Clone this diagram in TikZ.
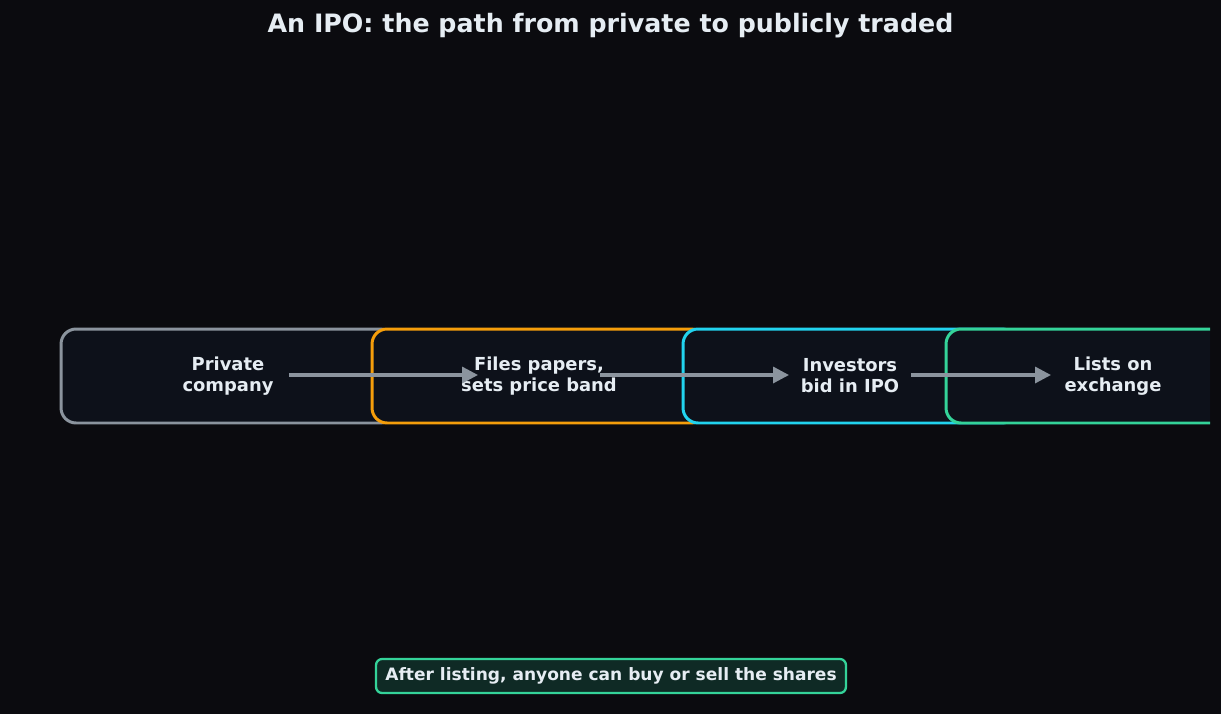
\documentclass[tikz,border=0pt]{standalone}
\usepackage{fontspec}
\setmainfont{DejaVu Sans}
\usetikzlibrary{arrows.meta,positioning}
\definecolor{bgdark}{HTML}{0B0B0F}
\definecolor{boxfill}{HTML}{0D111A}
\definecolor{txtlight}{HTML}{E6EDF3}
\definecolor{edgegray}{HTML}{8B949E}
\definecolor{edgeorange}{HTML}{F59E0B}
\definecolor{edgecyan}{HTML}{22D3EE}
\definecolor{edgegreen}{HTML}{34D399}
\definecolor{notefill}{HTML}{0F2A25}
\tikzset{
  stage/.style={draw=#1, fill=boxfill, line width=1.7pt, rounded corners=0.3cm,
    minimum width=6.68cm, minimum height=1.88cm, align=center, text=txtlight,
    font=\bfseries\fontsize{10.2}{12}\selectfont},
  flow/.style={draw=edgegray, line width=1.9pt, -{Triangle[length=0.32cm,width=0.32cm]}},
}
\begin{document}
\begin{tikzpicture}[x=0.02cm,y=-0.02cm]
            % Background
            \fill[bgdark] (0,0) rectangle (1221,714);
            \useasboundingbox (0,0) rectangle (1221,714);
            % Title
            \node[text=txtlight, font=\bfseries\fontsize{14.4}{17}\selectfont] (title) at (610.5,26) {An IPO: the path from private to publicly traded};
            % stages
            \begin{scope}
            \clip (0,0) rectangle (1210,714);
            \node[stage=edgegray] (private) at (228,376) {Private\\company};
            \node[stage=edgeorange] (files) at (539,376) {Files papers,\\sets price band};
            \node[stage=edgecyan] (bid) at (850,376) {Investors\\bid in IPO};
            \node[stage=edgegreen] (lists) at (1113,376) {Lists on\\exchange};
            \end{scope}
            % arrows
            \draw[flow] ([xshift=1.22cm,yshift=0.02cm]private.center) -- ([xshift=-1.22cm,yshift=0.02cm]files.center);
            \draw[flow] ([xshift=1.22cm,yshift=0.02cm]files.center) -- ([xshift=-1.22cm,yshift=0.02cm]bid.center);
            \draw[flow] ([xshift=1.22cm,yshift=0.02cm]bid.center) -- ([xshift=-1.24cm,yshift=0.02cm]lists.center);
            % note
            \node[draw=edgegreen, fill=notefill, line width=1.3pt, rounded corners=0.12cm,
              text=txtlight, font=\bfseries\fontsize{9.7}{12}\selectfont, inner xsep=0.1cm,
              minimum width=9.4cm, minimum height=0.68cm] (note) at (611,676) {After listing, anyone can buy or sell the shares};
\end{tikzpicture}
\end{document}
